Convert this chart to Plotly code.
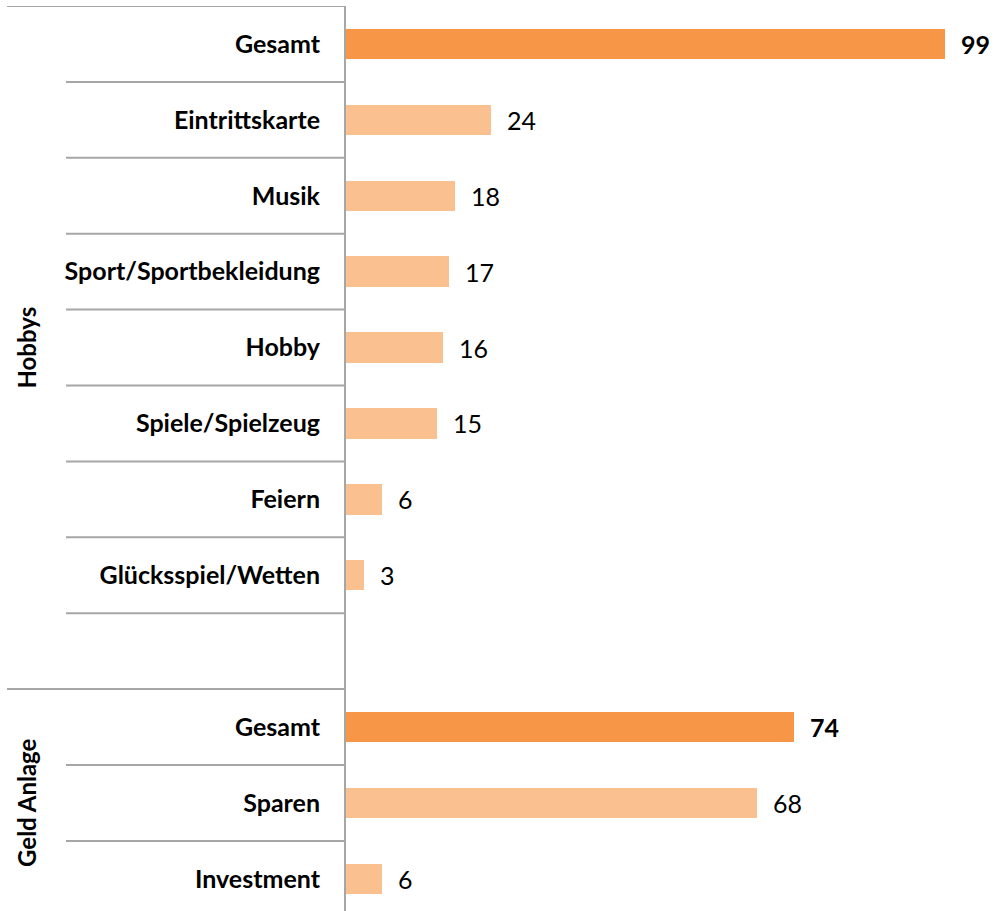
import plotly.graph_objects as go

# Hobbys group
hobby_labels = ["Gesamt", "Eintrittskarte", "Musik", "Sport/Sportbekleidung", "Hobby",
                "Spiele/Spielzeug", "Feiern", "Glücksspiel/Wetten"]
hobby_values = [99, 24, 18, 17, 16, 15, 6, 3]

# Geld Anlage group
geld_labels = ["Gesamt", "Sparen", "Investment"]
geld_values = [74, 68, 6]

group_names = ["Hobbys", "Geld Anlage"]

TOTAL_COLOR = "#F79646"
ITEM_COLOR = "#FAC090"
LINE_COLOR = "#A6A6A6"
FONT = "Lato, 'Open Sans', sans-serif"

# Row layout: hobby rows, one blank row, then geld rows
hobby_rows = list(range(len(hobby_labels)))
gap_row = len(hobby_labels)
geld_rows = [gap_row + 1 + i for i in range(len(geld_labels))]

rows = hobby_rows + geld_rows
labels = hobby_labels + geld_labels
values = hobby_values + geld_values
is_total = [i == 0 for i in range(len(hobby_labels))] + [i == 0 for i in range(len(geld_labels))]
colors = [TOTAL_COLOR if t else ITEM_COLOR for t in is_total]

fig = go.Figure()
fig.add_trace(go.Bar(
    x=values, y=rows, orientation="h",
    marker=dict(color=colors, line=dict(width=0)),
    width=0.4, hoverinfo="x+y", showlegend=False,
))

# value labels to the right of each bar
for r, v, t in zip(rows, values, is_total):
    fig.add_annotation(
        x=v, y=r, xref="x", yref="y", xanchor="left", yanchor="middle",
        xshift=14, showarrow=False,
        text=f"<b>{v}</b>" if t else str(v),
        font=dict(family=FONT, size=25, color="#000000"),
    )

n_rows = gap_row + 1 + len(geld_labels)
row_px = 75.9
plot_top = 6
fig_h = 911
visible = (fig_h - plot_top) / row_px

# separator lines on the category side
short_x0 = -0.4314
long_x0 = -0.5223
boundaries = [(-0.5, long_x0)]
boundaries += [(r + 0.5, short_x0) for r in hobby_rows]
boundaries += [(gap_row + 0.5, long_x0)]
boundaries += [(r + 0.5, short_x0) for r in geld_rows[:-1]]
for yb, x0 in boundaries:
    fig.add_shape(type="line", xref="paper", yref="y", x0=x0, x1=0, y0=yb, y1=yb,
                  line=dict(color=LINE_COLOR, width=2))

# group titles
group_centers = [(-0.5 + gap_row + 0.5) / 2, (gap_row + 0.5 + n_rows - 0.5) / 2]
for name, yc in zip(group_names, group_centers):
    fig.add_annotation(
        x=-0.4915, y=yc, xref="paper", yref="y", textangle=-90, showarrow=False,
        xanchor="center", yanchor="middle",
        text=f"<b>{name}</b>", font=dict(family=FONT, size=24, color="#000000"),
    )

fig.update_layout(
    width=995, height=fig_h,
    margin=dict(l=346, r=0, t=plot_top, b=0),
    plot_bgcolor="white", paper_bgcolor="white",
    bargap=0,
    xaxis=dict(range=[0, 649 / 6.05], visible=False, fixedrange=True),
    yaxis=dict(
        range=[-0.5 + visible, -0.5],
        tickvals=rows, ticktext=[f"<b>{l}</b>" for l in labels],
        tickfont=dict(family=FONT, size=25, color="#000000"),
        ticks="", ticklabelstandoff=19,
        showgrid=False, zeroline=False,
        showline=True, linecolor=LINE_COLOR, linewidth=2,
    ),
)

fig.write_html("out.html")
